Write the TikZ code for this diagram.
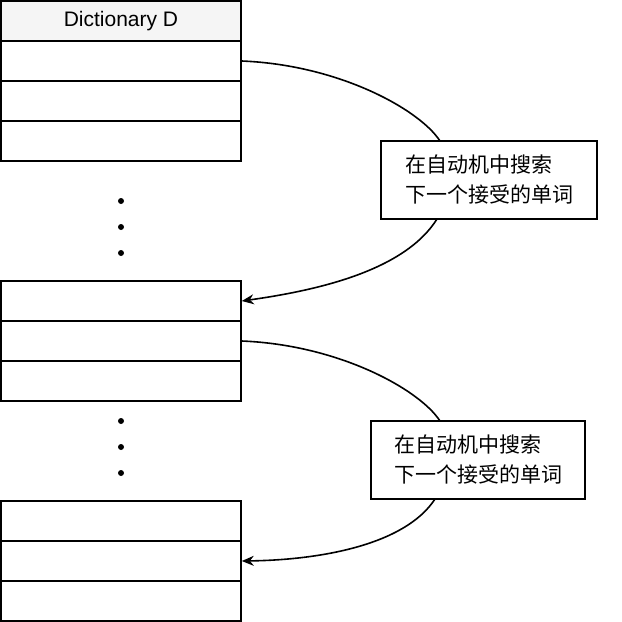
\documentclass[tikz,border=0pt]{standalone}
\usepackage{fontspec}
\setmainfont{Liberation Sans}
\newfontfamily\cjk{Noto Sans CJK SC}
\usetikzlibrary{arrows.meta}
\begin{document}
\begin{tikzpicture}[x=0.5pt,y=-0.5pt,
  cell/.style={draw,thick,minimum width=120pt,minimum height=20pt,inner sep=0pt},
  head/.style={cell,fill=black!4,font=\fontsize{10.5}{12}\selectfont},
  note/.style={draw,thick,fill=white,font=\cjk\fontsize{10.5}{15}\selectfont,align=left,minimum height=39pt,inner sep=0pt},
  link/.style={thick,-{Stealth[length=6pt,width=5pt]}}]
\useasboundingbox (0,0) rectangle (622,622);
\node[head] (head) at (121,21) {Dictionary D};
% three blocks
\foreach \name/\y in {a/61,b/301,c/521} {
\node[cell] (\name1) at (121,\y) {};
\node[cell] (\name2) at (121,\y+40) {};
\node[cell] (\name3) at (121,\y+80) {};
}
% dots
\foreach \y in {201,227,253,421,447,473} {
\fill (121,\y) circle (3);
}
\node[note,minimum width=108pt] (n1) at (489,180) {在自动机中搜索\\下一个接受的单词};
\node[note,minimum width=107pt] (n2) at (478,460) {在自动机中搜索\\下一个接受的单词};
\draw[thick] (a1.east) .. controls (340,65) and (420,110) .. (440,141);
\draw[link] (437,219) .. controls (405,270) and (320,290) .. (b1.east);
\draw[thick] (b2.east) .. controls (340,345) and (420,390) .. (440,421);
\draw[link] (435,499) .. controls (405,545) and (320,560) .. (c2.east);
\end{tikzpicture}
\end{document}
